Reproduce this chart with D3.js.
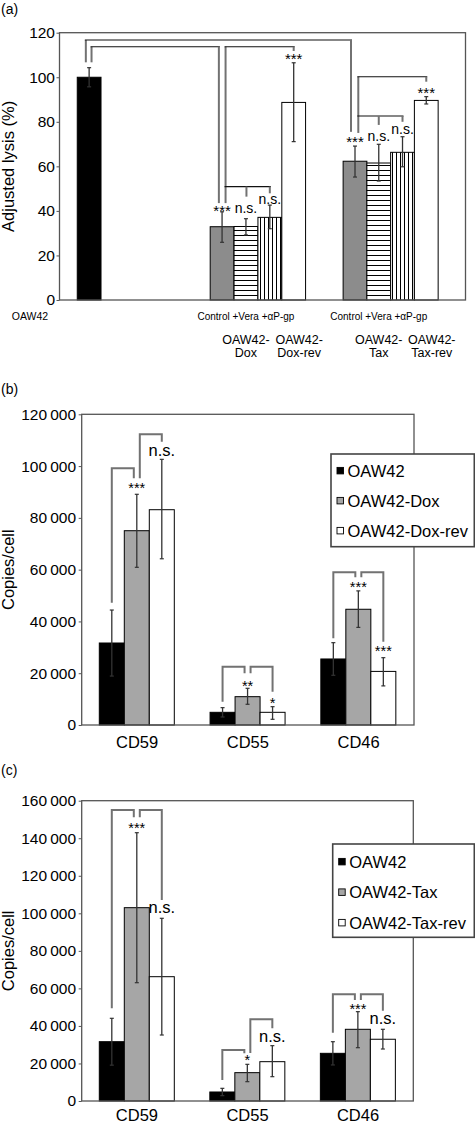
<!DOCTYPE html>
<html><head><meta charset="utf-8">
<script src="https://cdn.jsdelivr.net/npm/d3@7"></script>
<style>body{margin:0;background:#fff}svg{display:block}text{font-family:"Liberation Sans",Arial,Helvetica,sans-serif}</style>
</head><body>
<script>
// ---------- DATA: panel (a) ----------
const aBarLabels = ["OAW42","Dox Control","Dox +Vera","Dox +αP-gp","OAW42-Dox-rev","Tax Control","Tax +Vera","Tax +αP-gp","OAW42-Tax-rev"];
const aValues = [100, 32.9, 33.0, 37.1, 88.7, 62.3, 61.5, 66.3, 89.6];
const aErrHi  = [104.3, 39.6, 36.5, 42.6, 106.5, 69.1, 69.9, 73.3, 91.3];
const aErrLo  = [95.7, 25.9, 29.2, 32.0, 71.1, 55.2, 53.4, 59.8, 88.0];
const aSig    = ["", "***", "n.s.", "n.s.", "***", "***", "n.s.", "n.s.", "***"];
const aSigY   = [0, 41.6, 40.7, 44.9, 109.8, 72.7, 72.9, 76.3, 94.7];
const aTicks  = [0, 20, 40, 60, 80, 100, 120];

// ---------- DATA: panels (b) and (c) ----------
const markers = ["CD59", "CD55", "CD46"];
const bSeries = ["OAW42", "OAW42-Dox", "OAW42-Dox-rev"];
const bOAW42   = [31670, 4900, 25500];
const bOAW42Hi = [44400, 6700, 31800];
const bOAW42Lo = [18900, 3100, 19200];
const bDox     = [75040, 10940, 44700];
const bDoxHi   = [89100, 14170, 51800];
const bDoxLo   = [60900, 8000, 37700];
const bDoxRev  = [83150, 4900, 20700];
const bDoxRevHi= [102600, 7080, 26000];
const bDoxRevLo= [64200, 2200, 15100];
const bSigMid  = ["***", "**", "***"];
const bSigMidY = [92966, 16492, 54729];
const bSigRev  = ["n.s.", "*", "***"];
const bSigRevY = [105556, 9926, 29856];
// bracket heights: leftStart, leftTop, leftEnd, rightStart, rightTop, rightEnd
const bBrackets = [[47236, 99146, 95284, 95284, 112278, 109420],
                   [8999, 22517, 19968, 19968, 22517, 12861],
                   [33486, 58977, 57046, 57046, 58977, 32173]];
const bTicks = [0, 20000, 40000, 60000, 80000, 100000, 120000];

const cSeries = ["OAW42", "OAW42-Tax", "OAW42-Tax-rev"];
const cOAW42   = [31600, 4800, 25400];
const cOAW42Hi = [44060, 6750, 31600];
const cOAW42Lo = [19100, 2850, 19200];
const cTax     = [103000, 15100, 38200];
const cTaxHi   = [142950, 19540, 47600];
const cTaxLo   = [63030, 10300, 28400];
const cTaxRev  = [66230, 20950, 32900];
const cTaxRevHi= [97340, 29480, 38200];
const cTaxRevLo= [35160, 12960, 27700];
const cSigMid  = ["***", "*", "***"];
const cSigMidY = [147053, 23603, 50616];
const cSigRev  = ["n.s.", "n.s.", "n.s."];
const cSigRevY = [102298, 33939, 43157];
const cBrackets = [[49390, 155045, 151155, 151155, 155045, 107093],
                   [11189, 27173, 25415, 25574, 43530, 38734],
                   [36390, 56850, 53813, 53813, 56850, 48112]];
const cTicks = [0, 20000, 40000, 60000, 80000, 100000, 120000, 140000, 160000];

// ---------- LAYOUT ----------
const W = 475, H = 1125;
const svg = d3.select("body").append("svg").attr("width", W).attr("height", H);
const defs = svg.append("defs");
const ph = defs.append("pattern").attr("id","hl").attr("patternUnits","userSpaceOnUse").attr("width",8).attr("height",5);
ph.append("rect").attr("width",8).attr("height",5).attr("fill","#fff");
ph.append("line").attr("x1",0).attr("x2",8).attr("y1",0.5).attr("y2",0.5).attr("stroke","#000").attr("stroke-width",1);
const pv = defs.append("pattern").attr("id","vl").attr("patternUnits","userSpaceOnUse").attr("width",4).attr("height",8);
pv.append("rect").attr("width",4).attr("height",8).attr("fill","#fff");
pv.append("line").attr("x1",0.5).attr("x2",0.5).attr("y1",0).attr("y2",8).attr("stroke","#000").attr("stroke-width",1);

const FRAME = "#555", BRK = "#727272", ERR = "#333";
function frame(g, x, y, w, h) {
  g.append("rect").attr("x",x).attr("y",y).attr("width",w).attr("height",h)
    .attr("fill","none").attr("stroke",FRAME).attr("stroke-width",1.3);
}
function errBar(g, cx, y1, y2) {
  g.append("line").attr("x1",cx).attr("x2",cx).attr("y1",y1).attr("y2",y2).attr("stroke",ERR).attr("stroke-width",1.3);
  [y1,y2].forEach(y => g.append("line").attr("x1",cx-2).attr("x2",cx+2).attr("y1",y).attr("y2",y).attr("stroke",ERR).attr("stroke-width",1.2));
}
function sigText(g, x, yc, t, sizeStar, sizeNs) {
  const star = t.indexOf("*") >= 0;
  const fs = star ? sizeStar : sizeNs;
  g.append("text").attr("x",x).attr("y", yc + (star ? fs*0.58 : fs*0.27))
    .attr("text-anchor","middle").attr("font-size",fs).attr("fill","#000").text(t);
}

// ---------- PANEL (a) ----------
{
  const g = svg.append("g");
  const L = 59.5, R = 465.5, T = 32.7, B = 300;
  const ya = d3.scaleLinear().domain([0,120]).range([B, T]);
  const xa = d3.scaleLinear().domain([0,16.92]).range([L, R]);
  const aSlot = [0.74, 6.28, 7.275, 8.27, 9.265, 11.82, 12.81, 13.80, 14.79];
  const aFill = ["#000", "#8c8c8c", "url(#hl)", "url(#vl)", "#fff", "#8c8c8c", "url(#hl)", "url(#vl)", "#fff"];
  const bw = xa(0.99) - xa(0);
  const cx = i => xa(aSlot[i]) + bw/2;

  g.append("text").attr("x",1).attr("y",14).attr("font-size",14).text("(a)");
  const ax = g.append("g").attr("transform",`translate(${L},0)`)
    .call(d3.axisLeft(ya).tickValues(aTicks).tickSize(3).tickPadding(1.5).tickFormat(d3.format("d")));
  ax.select(".domain").remove();
  ax.selectAll(".tick line").attr("stroke",FRAME);
  ax.selectAll("text").attr("font-size",15.5).attr("font-family",'"Liberation Sans",Arial,sans-serif').attr("fill","#000");
  g.append("text").attr("transform",`translate(14,${(T+B)/2}) rotate(-90)`).attr("text-anchor","middle")
    .attr("font-size",16.5).text("Adjusted lysis (%)");

  aValues.forEach((v,i) => {
    g.append("rect").attr("x",xa(aSlot[i])).attr("y",ya(v)).attr("width",bw).attr("height",ya(0)-ya(v))
      .attr("fill",aFill[i]).attr("stroke","#000").attr("stroke-width",1);
  });
  aValues.forEach((v,i) => errBar(g, cx(i), ya(aErrHi[i]), ya(aErrLo[i])));

  // brackets: [barIndex, pxOffset, value]
  const vseg = (i, off, v1, v2) => g.append("line").attr("x1",cx(i)+off).attr("x2",cx(i)+off)
      .attr("y1",ya(v1)).attr("y2",ya(v2)).attr("stroke",BRK).attr("stroke-width",2);
  const hseg = (i1, o1, i2, o2, v) => g.append("line").attr("x1",cx(i1)+o1-1).attr("x2",cx(i2)+o2+1)
      .attr("y1",ya(v)).attr("y2",ya(v)).attr("stroke","#111").attr("stroke-width",1.1);
  // outer OAW42 -> Tax control
  vseg(0,-3.3,106.7,116.7); hseg(0,-3.3,5,-4,116.7); vseg(5,-4,116.7,75.5);
  // inner OAW42 -> Dox control
  vseg(0,2.4,106.7,113.7); hseg(0,2.4,1,-3.2,113.7); vseg(1,-3.2,113.7,43.5);
  // Dox control -> Dox-rev
  vseg(1,3.5,43.5,113.7); hseg(1,3.5,4,0,113.7); vseg(4,0,113.7,111.8);
  // Dox sub bracket
  hseg(1,3.5,3,0,50.9); vseg(2,0.5,50.9,46.4); vseg(3,0,50.9,47.9);
  // Tax control -> Tax-rev
  vseg(5,3.3,75,100.2); hseg(5,3.3,8,0,100.2); vseg(8,0,100.2,98);
  // Tax sub bracket
  hseg(5,3.3,7,0,82.6); vseg(6,0,82.6,78.6); vseg(7,0,82.6,80);

  aSig.forEach((t,i) => { if (t) sigText(g, cx(i), ya(aSigY[i]), t, 15, 14); });

  frame(g, L, T, R-L, B-T);

  // category labels below
  g.append("text").attr("x",30).attr("y",320).attr("text-anchor","middle").attr("font-size",10.5).text(aBarLabels[0]);
  [[2,"Dox"],[6,"Tax"]].forEach(([i,n]) => {
    g.append("text").attr("x",cx(i)).attr("y",320).attr("text-anchor","middle").attr("font-size",10).text("Control +Vera +αP-gp");
    g.append("text").attr("x",cx(i)).attr("y",344).attr("text-anchor","middle").attr("font-size",12.5).text("OAW42-");
    g.append("text").attr("x",cx(i)).attr("y",357.3).attr("text-anchor","middle").attr("font-size",12.5).text(n);
    g.append("text").attr("x",cx(i+2)+5.5).attr("y",344).attr("text-anchor","middle").attr("font-size",12.5).text("OAW42-");
    g.append("text").attr("x",cx(i+2)+5.5).attr("y",357.3).attr("text-anchor","middle").attr("font-size",12.5).text(n + "-rev");
  });
}

// ---------- PANELS (b), (c) ----------
function panel(opt) {
  const g = svg.append("g");
  const {L, R, T, B} = opt;
  const y = d3.scaleLinear().domain([0, opt.max]).range([B, T]);
  const x = d3.scaleBand().domain(markers).range([L, R]).padding(0);
  const xs = d3.scaleBand().domain(opt.series).range([17.6, 92.6]).padding(0);
  const fills = ["#000", "#a6a6a6", "#fff"];
  const fmt = v => d3.format(",")(v).replace(/,/g, "\u2009");

  g.append("text").attr("x",1).attr("y",opt.labelY).attr("font-size",14).text(opt.label);
  const ax = g.append("g").attr("transform",`translate(${L},0)`)
    .call(d3.axisLeft(y).tickValues(opt.ticks).tickSize(3).tickPadding(2.7).tickFormat(fmt));
  ax.select(".domain").remove();
  ax.selectAll(".tick line").attr("stroke",FRAME);
  ax.selectAll("text").attr("font-size",15.5).attr("font-family",'"Liberation Sans",Arial,sans-serif').attr("fill","#000");
  g.append("text").attr("transform",`translate(14,${(T+B)/2}) rotate(-90)`).attr("text-anchor","middle")
    .attr("font-size",16.5).text("Copies/cell");

  const bcx = (m, s) => x(markers[m]) + xs(opt.series[s]) + xs.bandwidth()/2;
  opt.vals.forEach((arr, s) => arr.forEach((v, m) => {
    g.append("rect").attr("x", x(markers[m]) + xs(opt.series[s])).attr("y", y(v))
      .attr("width", xs.bandwidth()).attr("height", y(0) - y(v))
      .attr("fill", fills[s]).attr("stroke","#000").attr("stroke-width",1);
  }));
  opt.vals.forEach((arr, s) => arr.forEach((v, m) => errBar(g, bcx(m,s), y(opt.hi[s][m]), y(opt.lo[s][m]))));

  const path = pts => g.append("path").attr("d", d3.line()(pts)).attr("fill","none")
      .attr("stroke",BRK).attr("stroke-width",2).attr("stroke-linejoin","miter");
  opt.brackets.forEach((b, m) => {
    const x0 = bcx(m,0), x1 = bcx(m,1) - 3, x2 = bcx(m,1) + 3, x3 = bcx(m,2);
    path([[x0, y(b[0])], [x0, y(b[1])], [x1, y(b[1])], [x1, y(b[2])]]);
    path([[x2, y(b[3])], [x2, y(b[4])], [x3, y(b[4])], [x3, y(b[5])]]);
    sigText(g, bcx(m,1), y(opt.sigMidY[m]), opt.sigMid[m], 14.5, 16.5);
    sigText(g, bcx(m,2), y(opt.sigRevY[m]), opt.sigRev[m], 14.5, 16.5);
  });

  frame(g, L, T, R-L, B-T);

  markers.forEach(mk => g.append("text").attr("x", x(mk) + x.bandwidth()/2).attr("y", B + opt.xLabelDy)
    .attr("text-anchor","middle").attr("font-size",16.5).text(mk));

  // legend
  const lg = opt.legend;
  g.append("rect").attr("x",lg.x).attr("y",lg.y).attr("width",lg.w).attr("height",lg.h)
    .attr("fill","#fff").attr("stroke","#444").attr("stroke-width",1.6);
  opt.series.forEach((s, i) => {
    const cy = lg.y + lg.first + i*lg.step;
    g.append("rect").attr("x",lg.x+6).attr("y",cy-3.3).attr("width",6.5).attr("height",6.5)
      .attr("fill",fills[i]).attr("stroke","#000").attr("stroke-width",0.9);
    g.append("text").attr("x",lg.x+16.5).attr("y",cy+6).attr("font-size",16.5).text(s);
  });
}

panel({L:81.7, R:414, T:414.3, B:725, max:120000, ticks:bTicks, series:bSeries,
  vals:[bOAW42,bDox,bDoxRev], hi:[bOAW42Hi,bDoxHi,bDoxRevHi], lo:[bOAW42Lo,bDoxLo,bDoxRevLo],
  brackets:bBrackets, sigMid:bSigMid, sigMidY:bSigMidY, sigRev:bSigRev, sigRevY:bSigRevY,
  label:"(b)", labelY:394, xLabelDy:22.6, legend:{x:331, y:454, w:143.3, h:92.7, first:16.7, step:30}});

panel({L:81.7, R:413.3, T:800.7, B:1101, max:160000, ticks:cTicks, series:cSeries,
  vals:[cOAW42,cTax,cTaxRev], hi:[cOAW42Hi,cTaxHi,cTaxRevHi], lo:[cOAW42Lo,cTaxLo,cTaxRevLo],
  brackets:cBrackets, sigMid:cSigMid, sigMidY:cSigMidY, sigRev:cSigRev, sigRevY:cSigRevY,
  label:"(c)", labelY:775, xLabelDy:19.8, legend:{x:332.7, y:844, w:141.6, h:93.3, first:17.7, step:30.5}});
</script>
</body></html>
